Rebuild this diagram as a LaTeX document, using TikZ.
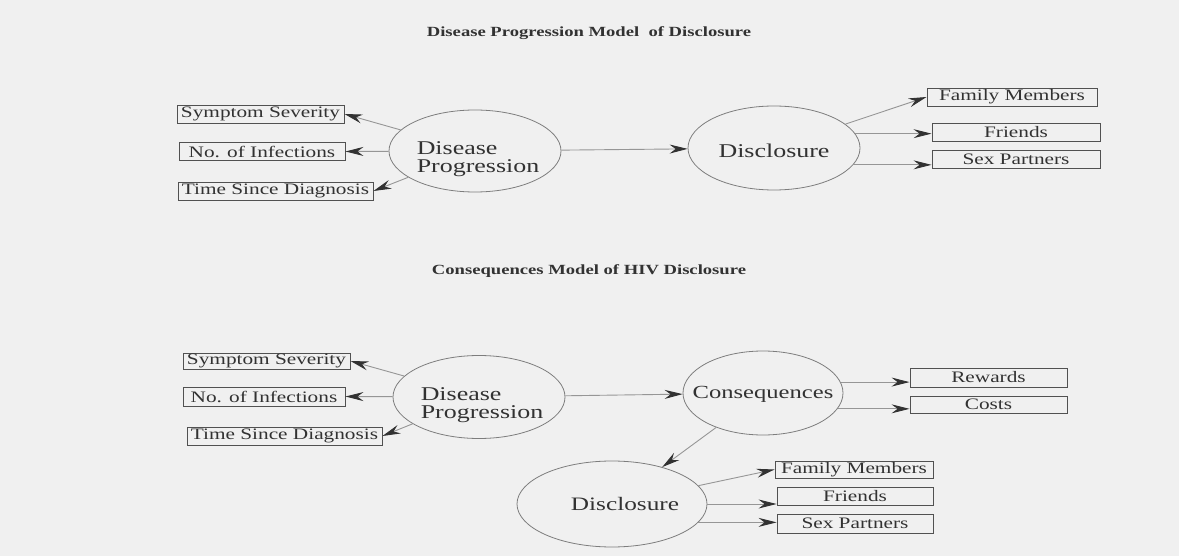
\documentclass[tikz,border=0pt]{standalone}
\usepackage{fontspec}
\setmainfont{Liberation Serif}[FakeStretch=1.33]
\usetikzlibrary{shapes.geometric,arrows.meta,positioning}
\definecolor{paper}{RGB}{240,240,240}
\definecolor{ink}{RGB}{50,50,50}
\definecolor{rim}{RGB}{125,125,125}
\definecolor{wire}{RGB}{150,150,150}
\tikzset{
  factor/.style={
    shape = rectangle,
    draw = ink!85,
    line width = 0.9pt,
    inner sep = 0pt,
    minimum height = 18pt,
    text = ink,
    font = \fontsize{16}{17}\selectfont
  },
  construct/.style={
    shape = ellipse,
    draw = rim,
    line width = 0.8pt,
    inner sep = 0pt
  },
  blurb/.style={
    inner sep = 0pt,
    text = ink,
    align = left,
    font = \fontsize{19.5}{17.5}\selectfont
  },
  link/.style={
    draw = wire,
    line width = 0.9pt,
    -{Stealth[length=18pt,width=9pt,inset=6pt,color=ink]}
  },
  heading/.style={
    text = ink,
    font = \fontsize{14}{16}\selectfont\bfseries
  },
}

\begin{document}
\begin{tikzpicture}[x=1pt,y=-1pt]
    \useasboundingbox (0,0) rectangle (1179,556);
    \fill[paper] (0,0) rectangle (1179,556);

    % upper model
    \node[heading] (title1) at (589,33) {Disease Progression Model~ of Disclosure};

    \node[construct, minimum width=172pt, minimum height=82pt] (prog1) at (475,151) {};
    \node[blurb] (prog1txt) at ([xshift=3pt,yshift=-8pt]prog1.center) {Disease\\Progression};
    \node[construct, minimum width=172pt, minimum height=84pt] (discl1) at (774,148) {};
    \node[blurb] (discl1txt) at ([yshift=-3pt]discl1.center) {Disclosure};

    \node[factor, minimum width=167pt] (sev1) at (260.5,114) {Symptom Severity};
    \node[factor, minimum width=166pt] (inf1) at (262,151.5) {No. of Infections};
    \node[factor, minimum width=195pt] (time1) at (275.5,191) {Time Since Diagnosis};

    \node[factor, minimum width=170pt] (fam1) at (1012,97) {Family Members};
    \node[factor, minimum width=168pt] (frd1) at (1016,132.5) {Friends};
    \node[factor, minimum width=168pt] (sex1) at (1016,159) {Sex Partners};

    \draw[link] (prog1) -- (sev1.east);
    \draw[link] (prog1) -- (inf1.east);
    \draw[link] (prog1) -- (time1.east);
    \draw[link] (prog1) -- (discl1);
    \draw[link] (discl1) -- (fam1.west);
    \draw[link] (discl1.10) -- (discl1.10 -| frd1.west);
    \draw[link] (discl1.-12) -- (discl1.-12 -| sex1.west);

    % lower model
    \node[heading] (title2) at (589,271) {Consequences Model of HIV Disclosure};

    \node[construct, minimum width=172pt, minimum height=83pt] (prog2) at (479,397) {};
    \node[blurb] (prog2txt) at ([xshift=3pt,yshift=-8pt]prog2.center) {Disease\\Progression};
    \node[construct, minimum width=160pt, minimum height=84pt] (cons) at (763,393) {};
    \node[blurb, font=\fontsize{18.5}{17.5}\selectfont] (constxt) at ([yshift=-1pt]cons.center) {Consequences};
    \node[construct, minimum width=190pt, minimum height=86pt] (discl2) at (612,504) {};
    \node[blurb, font=\fontsize{19}{17.5}\selectfont] (discl2txt) at ([xshift=13pt]discl2.center) {Disclosure};

    \node[factor, minimum width=167pt, minimum height=16pt] (sev2) at (266.5,361) {Symptom Severity};
    \node[factor, minimum width=162pt, minimum height=19pt] (inf2) at (264,396.5) {No. of Infections};
    \node[factor, minimum width=195pt] (time2) at (284.5,436) {Time Since Diagnosis};

    \node[factor, minimum width=157pt, minimum height=19pt] (rew) at (988.5,377.5) {Rewards};
    \node[factor, minimum width=157pt, minimum height=17pt] (cost) at (988.5,404.5) {Costs};

    \node[factor, minimum width=158pt, minimum height=17pt] (fam2) at (854,469.5) {Family Members};
    \node[factor, minimum width=156pt] (frd2) at (855,496) {Friends};
    \node[factor, minimum width=156pt, minimum height=19pt] (sex2) at (855,523.5) {Sex Partners};

    \draw[link] (prog2) -- (sev2.east);
    \draw[link] (prog2) -- (inf2.east);
    \draw[link] (prog2) -- (time2.east);
    \draw[link] (prog2) -- (cons);
    \draw[link] (cons.8) -- (cons.8 -| rew.west);
    \draw[link] (cons.-12) -- (cons.-12 -| cost.west);
    \draw[link] (cons) -- (discl2);
    \draw[link] (discl2) -- (fam2.west);
    \draw[link] (discl2.east) -- (discl2.east -| frd2.west);
    \draw[link] (discl2.-12) -- (discl2.-12 -| sex2.west);
\end{tikzpicture}
\end{document}
